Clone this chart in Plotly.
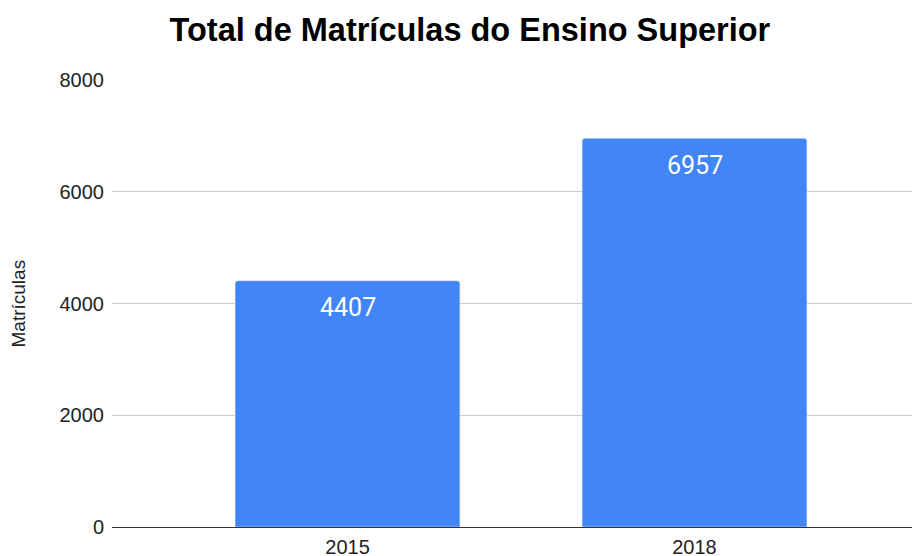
import plotly.graph_objects as go

years = ["2015", "2018"]
matriculas = [4407, 6957]
y_ticks = [0, 2000, 4000, 6000, 8000]

fig = go.Figure(go.Bar(
    x=years, y=matriculas,
    marker=dict(color="#4285f4", cornerradius=3),
    width=0.648,
    hoverinfo="x+y",
))

for i, v in enumerate(matriculas):
    fig.add_annotation(x=i, y=v, xref="x", yref="y", text=str(v), showarrow=False,
                       yanchor="middle", yshift=-27,
                       font=dict(color="white", size=25, family="Roboto, Arial"))

fig.add_annotation(xref="paper", yref="paper", x=-0.1175, xanchor="center", y=0.5,
                   yanchor="middle", text="Matrículas", textangle=-90, showarrow=False,
                   font=dict(size=19, color="#222222"))

fig.update_layout(
    width=916, height=556,
    margin=dict(l=112, r=4, t=80, b=29),
    paper_bgcolor="white", plot_bgcolor="white",
    title=dict(text="<b>Total de Matrículas do Ensino Superior</b>", x=0.513, xanchor="center",
               yref="container", y=0.946, yanchor="middle",
               font=dict(family="Liberation Sans, Arial", size=32.5, color="black")),
    font=dict(family="Liberation Sans, Arial", size=20, color="#222222"),
    showlegend=False,
)
fig.update_xaxes(type="category", range=[-0.6787, 1.6268], showgrid=False, automargin=False,
                 showline=True, linecolor="#333333", linewidth=1.2,
                 ticks="", ticklabelstandoff=2, tickfont=dict(size=20, color="#222222"))
fig.update_yaxes(range=[0, 8000], tickvals=y_ticks, showgrid=True, gridcolor="#cccccc",
                 automargin=False, zeroline=False, showline=False, ticks="", ticklabelstandoff=7,
                 tickfont=dict(size=20, color="#222222"))

fig.write_html("out.html", config={"displayModeBar": False},
               post_script="document.body.style.margin='0';document.body.style.overflow='hidden';")
